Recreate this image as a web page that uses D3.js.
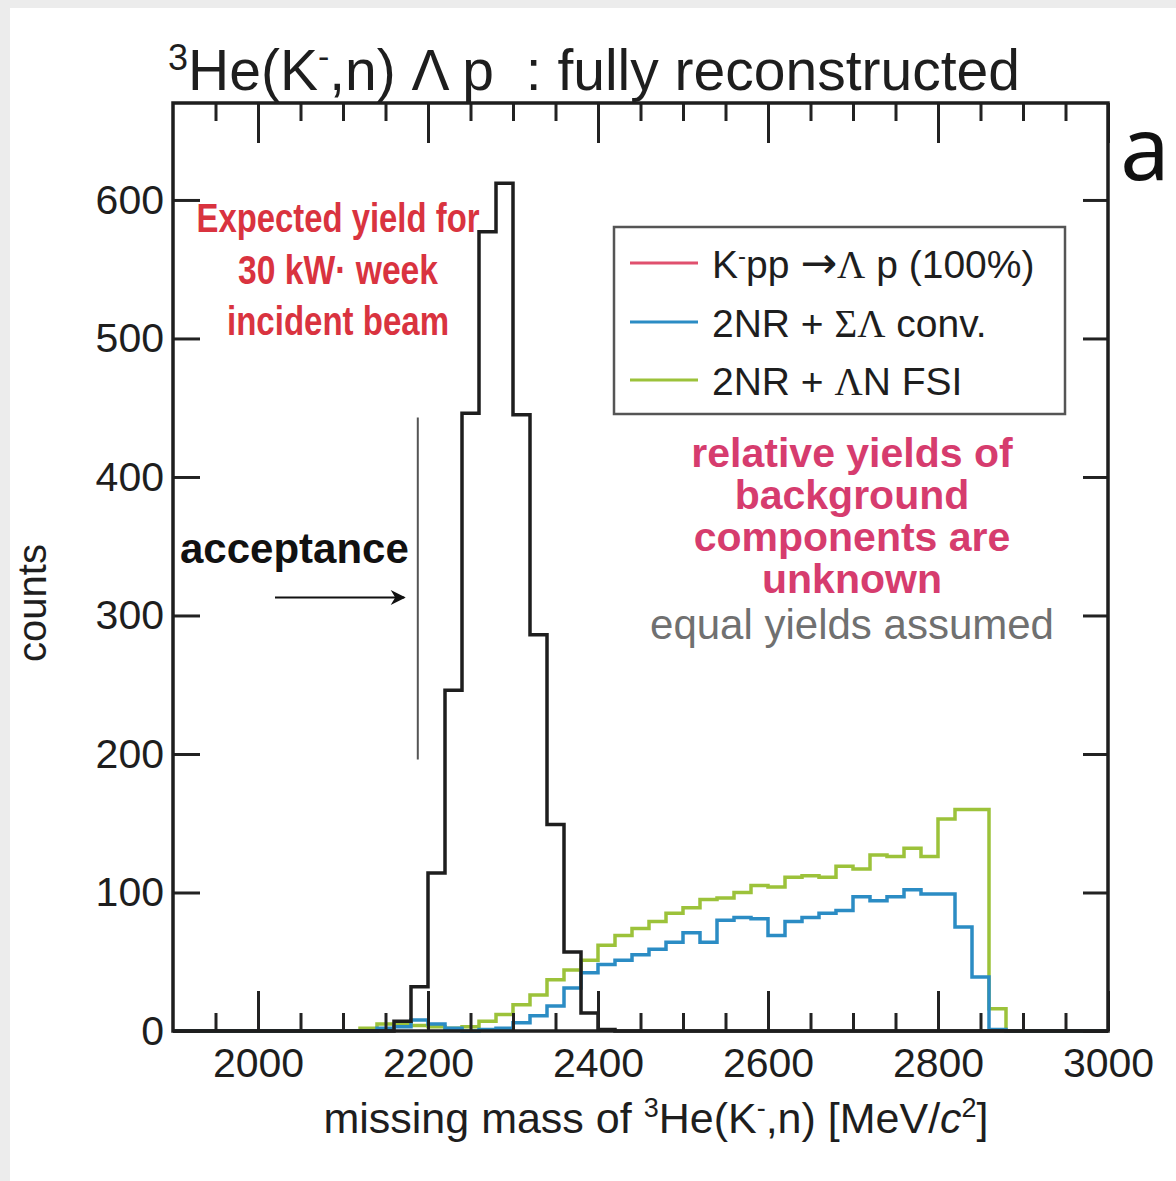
<!DOCTYPE html>
<html>
<head>
<meta charset="utf-8">
<script src="https://cdn.jsdelivr.net/npm/d3@7"></script>
<style>
  body { margin: 0; background: #ececec; }
  svg { display: block; }
</style>
</head>
<body>
<div id="container"></div>
<script>
/* CONSTANTS AND GLOBALS */
const width = 1176,
  height = 1181,
  margin = { top: 103, bottom: 150, left: 173, right: 68 }

const font = "'Liberation Sans', Arial, Helvetica, sans-serif"

/* DATA (counts per 20 MeV bin, bins start at 2100 MeV) */
const binStart = 2100
const binWidth = 20
const signalCounts = [0, 0, 0, 7, 32, 114, 246, 446, 577, 612, 445, 286, 149, 57, 13, 1, 0, 0, 0, 0,
  0, 0, 0, 0, 0, 0, 0, 0, 0, 0, 0, 0, 0, 0, 0, 0, 0, 0, 0, 0]
const sigmaLambdaCounts = [0, 0, 2, 3, 8, 5, 2, 0, 1, 2, 6, 11, 18, 31, 42, 48, 51, 55, 59, 64,
  71, 64, 80, 82, 81, 69, 79, 82, 85, 87, 97, 94, 97, 102, 99, 99, 75, 39, 1, 0]
const lambdaNCounts = [0, 2, 5, 5, 4, 3, 2, 3, 7, 12, 19, 26, 37, 44, 51, 62, 69, 74, 79, 85,
  89, 95, 96, 100, 105, 104, 111, 112, 111, 119, 117, 127, 126, 132, 126, 153, 160, 160, 16, 0]

const xMajorTicks = [2000, 2200, 2400, 2600, 2800, 3000]
const xMinorTicks = d3.range(1950, 3000, 50).filter(d => !xMajorTicks.includes(d))
const yTicks = [0, 100, 200, 300, 400, 500, 600]

const acceptanceMass = 2188
const acceptanceRange = [196, 443]
const arrowFrom = [2020, 313], arrowTo = [2172, 313]

const seriesColors = { signal: "#1e1e1e", red: "#e0506e", blue: "#2b8cc4", green: "#9cc23a" }

/* SCALES */
const xScale = d3.scaleLinear()
  .domain([1900, 3000])
  .range([margin.left, width - margin.right])

const yScale = d3.scaleLinear()
  .domain([0, 670])
  .range([1031, margin.top])

const svg = d3.select("#container")
  .append("svg")
  .attr("width", width)
  .attr("height", height)
  .style("font-family", font)

svg.append("rect")
  .attr("x", 10).attr("y", 8)
  .attr("width", width - 10).attr("height", height - 8)
  .attr("fill", "white")

// turn a list of counts into step points over the full x range
function toSteps(counts) {
  const pts = d3.range(1900, 3000, binWidth).map(edge => {
    const i = (edge - binStart) / binWidth
    return [edge, i >= 0 && i < counts.length ? counts[i] : 0]
  })
  pts.push([3000, 0])
  return pts
}

const line = d3.line()
  .x(d => xScale(d[0]))
  .y(d => yScale(d[1]))
  .curve(d3.curveStepAfter)

/* HISTOGRAMS */
svg.append("path")
  .datum(toSteps(lambdaNCounts))
  .attr("d", line)
  .attr("fill", "none")
  .attr("stroke", seriesColors.green)
  .attr("stroke-width", 3.5)

svg.append("path")
  .datum(toSteps(sigmaLambdaCounts))
  .attr("d", line)
  .attr("fill", "none")
  .attr("stroke", seriesColors.blue)
  .attr("stroke-width", 3.5)

svg.append("path")
  .datum(toSteps(signalCounts))
  .attr("d", line)
  .attr("fill", "none")
  .attr("stroke", seriesColors.signal)
  .attr("stroke-width", 3.5)

/* AXES */
const tickStyle = g => {
  g.select(".domain").remove()
  g.selectAll(".tick line").attr("stroke", "#222").attr("stroke-width", 3)
  g.selectAll(".tick text").attr("fill", "#1e1e1e").attr("font-size", 41).attr("font-family", font)
}

svg.append("g")
  .attr("transform", `translate(0, ${yScale(0)})`)
  .call(d3.axisBottom(xScale).tickValues(xMajorTicks).tickSize(-40).tickPadding(17).tickFormat(d3.format("d")))
  .call(tickStyle)

svg.append("g")
  .attr("transform", `translate(0, ${yScale(0)})`)
  .call(d3.axisBottom(xScale).tickValues(xMinorTicks).tickSize(-18).tickFormat(""))
  .call(tickStyle)

svg.append("g")
  .attr("transform", `translate(0, ${margin.top})`)
  .call(d3.axisTop(xScale).tickValues(xMajorTicks).tickSize(-40).tickFormat(""))
  .call(tickStyle)

svg.append("g")
  .attr("transform", `translate(0, ${margin.top})`)
  .call(d3.axisTop(xScale).tickValues(xMinorTicks).tickSize(-18).tickFormat(""))
  .call(tickStyle)

svg.append("g")
  .attr("transform", `translate(${margin.left}, 0)`)
  .call(d3.axisLeft(yScale).tickValues(yTicks).tickSize(-27).tickPadding(9))
  .call(tickStyle)

svg.append("g")
  .attr("transform", `translate(${width - margin.right}, 0)`)
  .call(d3.axisRight(yScale).tickValues(yTicks).tickSize(-25).tickFormat(""))
  .call(tickStyle)

// frame
svg.append("rect")
  .attr("x", margin.left)
  .attr("y", margin.top)
  .attr("width", width - margin.right - margin.left)
  .attr("height", yScale(0) - margin.top)
  .attr("fill", "none")
  .attr("stroke", "#1e1e1e")
  .attr("stroke-width", 3.5)

/* ACCEPTANCE */
svg.append("line")
  .attr("x1", xScale(acceptanceMass)).attr("x2", xScale(acceptanceMass))
  .attr("y1", yScale(acceptanceRange[0])).attr("y2", yScale(acceptanceRange[1]))
  .attr("stroke", "#555").attr("stroke-width", 2)

svg.append("defs").append("marker")
  .attr("id", "arrow")
  .attr("viewBox", "0 0 10 10")
  .attr("refX", 9).attr("refY", 5)
  .attr("markerWidth", 32).attr("markerHeight", 15)
  .attr("markerUnits", "userSpaceOnUse")
  .attr("orient", "auto")
  .append("path")
  .attr("d", "M0,0 L10,5 L0,10 L3,5 Z")
  .attr("fill", "#111")

svg.append("line")
  .attr("x1", xScale(arrowFrom[0])).attr("y1", yScale(arrowFrom[1]))
  .attr("x2", xScale(arrowTo[0])).attr("y2", yScale(arrowTo[1]))
  .attr("stroke", "#111").attr("stroke-width", 2)
  .attr("marker-end", "url(#arrow)")

svg.append("text")
  .attr("x", 180).attr("y", 563)
  .attr("font-size", 42).attr("font-weight", "bold")
  .attr("fill", "#111")
  .text("acceptance")

/* RED NOTE */
const redNote = [["Expected yield for", 283], ["30 kW\u00b7 week", 200], ["incident beam", 222]]
redNote.forEach((t, i) => {
  svg.append("text")
    .attr("x", 338).attr("y", 232 + i * 51.5)
    .attr("text-anchor", "middle")
    .attr("font-size", 40).attr("font-weight", "bold")
    .attr("textLength", t[1]).attr("lengthAdjust", "spacingAndGlyphs")
    .attr("fill", "#d9333f")
    .text(t[0])
})

/* PINK NOTE */
const pinkNote = ["relative yields of", "background", "components are", "unknown"]
pinkNote.forEach((t, i) => {
  svg.append("text")
    .attr("x", 852).attr("y", 467 + i * 42)
    .attr("text-anchor", "middle")
    .attr("font-size", 41).attr("font-weight", "bold")
    .attr("fill", "#d63c6e")
    .text(t)
})
svg.append("text")
  .attr("x", 852).attr("y", 639)
  .attr("text-anchor", "middle")
  .attr("font-size", 42)
  .attr("fill", "#707070")
  .text("equal yields assumed")

/* LEGEND */
svg.append("rect")
  .attr("x", 614).attr("y", 227)
  .attr("width", 451).attr("height", 187)
  .attr("fill", "white")
  .attr("stroke", "#555").attr("stroke-width", 2.5)

const legendRows = [
  { color: seriesColors.red, y: 263 },
  { color: seriesColors.blue, y: 322 },
  { color: seriesColors.green, y: 380 }
]
legendRows.forEach(r => {
  svg.append("line")
    .attr("x1", 630).attr("x2", 698)
    .attr("y1", r.y).attr("y2", r.y)
    .attr("stroke", r.color).attr("stroke-width", 3)
})

const serif = "'Liberation Serif', 'DejaVu Serif', serif"
const lg1 = svg.append("text").attr("x", 712).attr("y", 278).attr("font-size", 39).attr("fill", "#1e1e1e")
  .style("white-space", "pre")
lg1.append("tspan").text("K")
lg1.append("tspan").attr("dy", -14).attr("font-size", 24).text("-")
lg1.append("tspan").attr("dy", 14).text("pp ")
lg1.append("tspan").attr("font-family", "'DejaVu Sans', sans-serif").attr("font-size", 44).text("\u2192")
lg1.append("tspan").attr("font-family", serif).text("\u039b")
lg1.append("tspan").text(" p (100%)")

const lg2 = svg.append("text").attr("x", 712).attr("y", 337).attr("font-size", 39).attr("fill", "#1e1e1e")
lg2.append("tspan").text("2NR + ")
lg2.append("tspan").attr("font-family", serif).text("\u03a3\u039b")
lg2.append("tspan").text(" conv.")

const lg3 = svg.append("text").attr("x", 712).attr("y", 395).attr("font-size", 39).attr("fill", "#1e1e1e")
lg3.append("tspan").text("2NR + ")
lg3.append("tspan").attr("font-family", serif).text("\u039b")
lg3.append("tspan").text("N FSI")

/* TITLES */
const title = svg.append("text").attr("x", 168).attr("y", 90).attr("font-size", 57).attr("fill", "#1e1e1e")
  .style("white-space", "pre")
title.append("tspan").attr("dy", -20).attr("font-size", 36).text("3")
title.append("tspan").attr("dy", 20).text("He(K")
title.append("tspan").attr("dy", -22).attr("font-size", 34).text("-")
title.append("tspan").attr("dy", 22).text(",n) \u039b p  : fully reconstructed")

const xLabel = svg.append("text").attr("x", 656).attr("y", 1133).attr("text-anchor", "middle")
  .attr("font-size", 43).attr("fill", "#1e1e1e")
xLabel.append("tspan").text("missing mass of ")
xLabel.append("tspan").attr("dy", -16).attr("font-size", 27).text("3")
xLabel.append("tspan").attr("dy", 16).text("He(K")
xLabel.append("tspan").attr("dy", -16).attr("font-size", 27).text("-")
xLabel.append("tspan").attr("dy", 16).text(",n) [MeV/")
xLabel.append("tspan").attr("font-style", "italic").text("c")
xLabel.append("tspan").attr("dy", -16).attr("font-size", 27).text("2")
xLabel.append("tspan").attr("dy", 16).text("]")

svg.append("text")
  .attr("transform", "translate(46, 603) rotate(-90)")
  .attr("text-anchor", "middle")
  .attr("font-size", 40).attr("fill", "#1e1e1e")
  .text("counts")

svg.append("text")
  .attr("x", 1145).attr("y", 180)
  .attr("text-anchor", "middle")
  .attr("font-size", 88)
  .attr("font-family", "'Noto Sans', 'DejaVu Sans', sans-serif")
  .attr("fill", "#111")
  .text("a")
</script>
</body>
</html>
